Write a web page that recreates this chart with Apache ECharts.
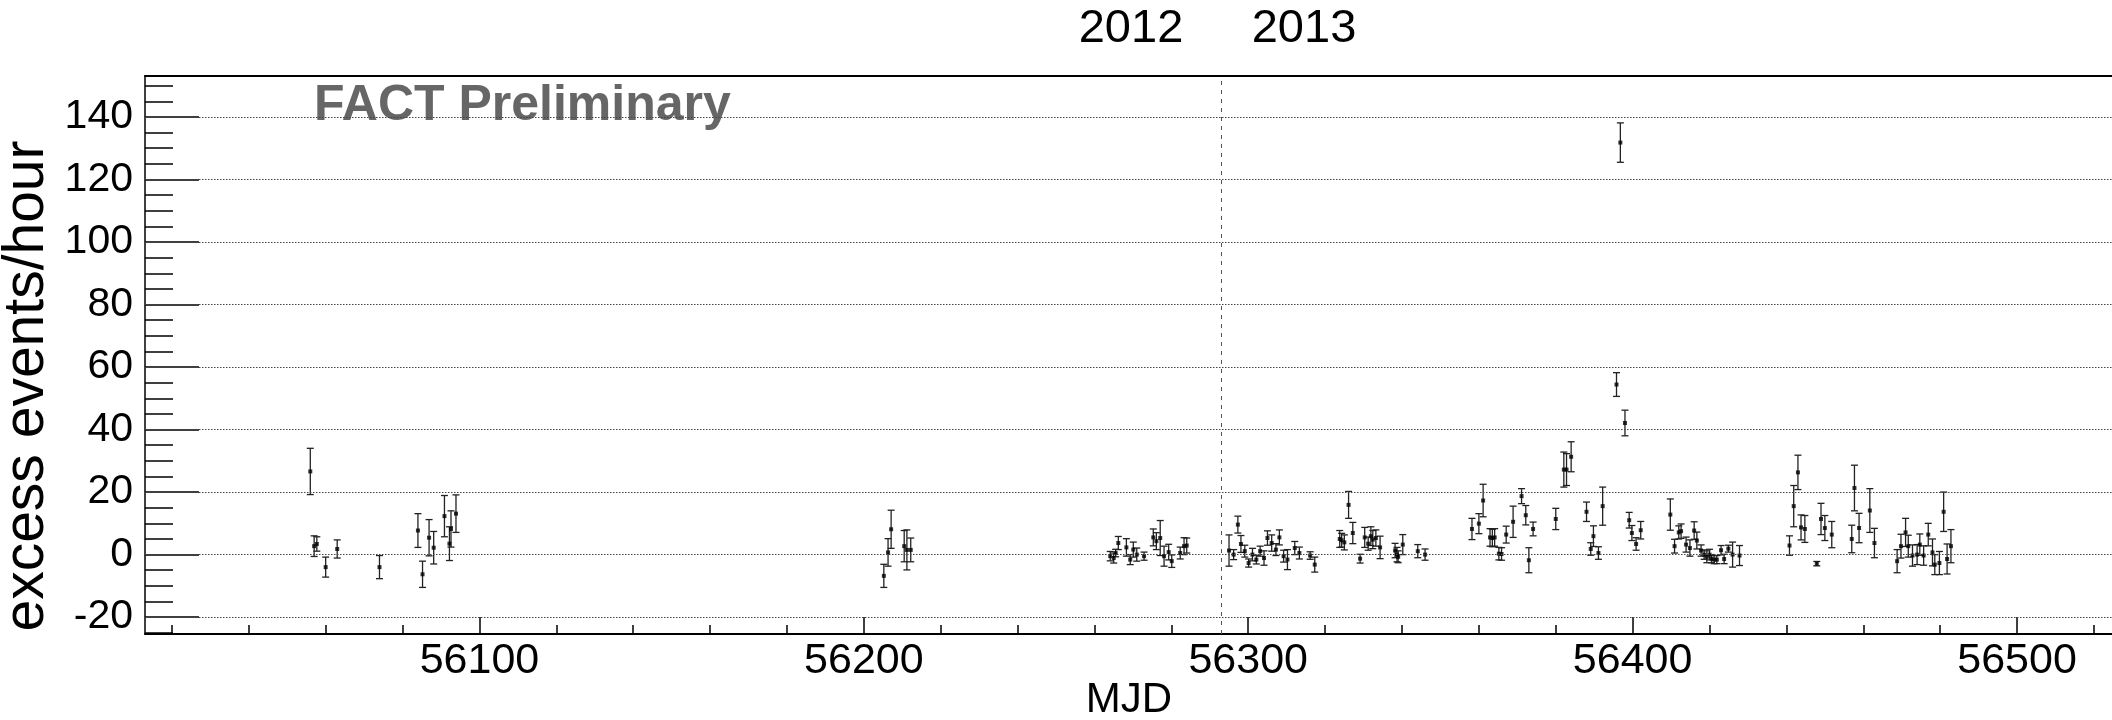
<!DOCTYPE html>
<html>
<head>
<meta charset="utf-8">
<script src="https://cdn.jsdelivr.net/npm/echarts@6/dist/echarts.min.js"></script>
<style>
html,body{margin:0;padding:0;background:#fff;}
#chart{width:2112px;height:720px;}
</style>
</head>
<body>
<div id="chart"></div>
<script>
// ---- data ----
const mjd = [
  56056.0,56057.0,56057.7,56060.0,56063.0,56074.0,56084.0,56085.2,56086.9,56088.1,56090.9,56092.2,56092.6,56093.9,
  56205.2,56206.3,56207.1,56210.5,56211.2,56212.2,
  56264.1,56265.0,56265.5,56266.2,56268.3,56269.3,56270.1,56271.0,56272.9,56275.3,56276.1,56277.1,56278.1,56279.3,56280.1,56282.3,56283.3,56284.0,
  56295.0,56296.2,56297.3,56298.1,56299.1,56300.1,56301.1,56302.1,56303.1,56304.1,56305.0,56306.1,56307.2,56308.1,56309.2,56310.2,56312.1,56313.3,56316.1,56317.3,
  56323.8,56324.3,56325.0,56326.1,56327.2,56329.1,56330.3,56331.2,56331.9,56332.4,56333.2,56334.3,56338.2,56338.7,56339.0,56340.2,56344.1,56346.0,
  56358.2,56360.0,56361.1,56362.9,56363.5,56364.1,56365.2,56365.9,56367.1,56368.9,56371.1,56372.2,56373.0,56374.1,56380.0,56382.1,56382.8,56384.0,
  56388.0,56389.1,56389.8,56391.1,56392.2,56395.8,56396.8,56398.0,56399.1,56399.8,56400.9,56402.1,
  56409.8,56410.9,56412.0,56412.6,56413.9,56414.9,56416.0,56416.7,56417.8,56418.6,56419.3,56420.0,56420.5,56421.2,56421.9,56423.0,56423.8,56424.9,56426.0,56427.8,
  56440.8,56441.9,56443.0,56443.8,56444.8,56447.9,56449.0,56450.0,56451.8,56457.0,56457.7,56458.9,56461.7,56462.9,
  56468.8,56469.8,56471.0,56471.7,56472.8,56474.0,56474.7,56475.7,56476.9,56478.0,56478.6,56479.8,56480.9,56481.8,56482.8
];
const excessRate = [
  26.6,2.7,3.4,-4.0,1.8,-4.0,7.7,-6.3,5.4,2.2,12.3,3.5,8.2,13.1,
  -6.8,0.7,8.1,2.7,1.5,1.5,
  -0.5,-1.1,0.5,3.7,2.3,-1.6,1.6,0.0,-0.5,5.5,4.3,5.3,-0.5,0.8,-2.1,0.5,2.7,2.9,
  1.3,0.0,9.6,3.4,1.1,-2.7,0.0,-1.6,1.1,-1.1,5.3,3.7,1.6,5.5,-0.5,-1.6,2.1,0.5,-0.3,-3.2,
  5.0,4.6,3.9,15.9,6.9,-1.3,5.5,3.5,5.9,4.8,5.3,2.3,1.3,0.0,-0.7,3.2,1.1,0.0,
  8.2,9.9,17.3,5.5,5.3,5.5,0.3,0.2,6.4,10.5,18.7,12.6,-1.8,8.2,11.4,27.2,27.2,31.3,
  13.7,1.8,5.9,0.5,15.5,54.4,131.8,42.1,11.0,6.9,3.4,7.8,
  12.8,2.7,7.1,7.5,3.2,2.1,7.7,4.5,1.3,0.0,-0.7,0.0,-1.3,-1.6,-1.6,1.4,-1.4,1.9,0.0,-0.3,
  2.9,15.5,26.3,8.7,8.2,-2.9,11.4,8.5,6.4,5.0,21.3,8.5,14.1,3.7,
  -2.1,2.7,7.1,2.7,-0.3,0.0,3.2,-0.3,6.4,0.7,-3.2,-2.7,13.7,-1.4,2.7
];
const rateError = [
  7.4,3.3,2.3,3.2,2.9,3.7,5.4,4.2,5.8,5.2,6.6,5.4,5.8,6.0,
  3.7,4.4,6.1,5.0,6.4,3.8,
  1.5,1.6,1.2,2.1,2.8,1.6,2.4,2.1,1.3,2.7,2.7,5.6,3.2,2.5,2.0,1.9,2.7,2.4,
  5.0,1.6,2.7,2.7,1.9,1.3,2.0,1.4,1.6,2.3,2.3,2.6,1.9,2.4,1.9,3.2,2.1,1.9,1.2,2.4,
  2.7,2.2,2.4,4.3,3.4,1.4,3.2,2.1,3.0,2.9,2.6,3.6,2.3,2.3,1.9,3.2,2.1,1.8,
  3.4,3.2,5.2,2.8,2.8,2.8,2.0,2.0,2.7,5.0,2.4,3.1,4.0,2.2,3.4,5.6,5.1,4.8,
  3.1,2.0,3.3,2.0,6.1,3.8,6.3,4.1,2.5,2.4,2.0,2.8,
  5.0,2.2,2.1,2.3,2.4,2.6,2.8,2.7,1.8,1.5,1.9,1.7,1.3,1.3,1.3,1.5,1.5,1.1,4.0,3.2,
  3.1,6.6,5.5,4.0,4.3,0.7,5.0,4.0,4.2,4.4,7.3,4.7,7.0,4.7,
  3.7,3.8,4.5,3.5,3.4,3.2,3.4,3.1,3.6,4.3,3.2,3.7,6.3,4.8,5.3
];
const xMajorTicks = [56100, 56200, 56300, 56400, 56500];
const xMinorTicks = [];
for (let v = 56020; v <= 56520; v += 20) xMinorTicks.push(v);
const yMajorTicks = [-20, 0, 20, 40, 60, 80, 100, 120, 140];
const yMinorTicks = [];
for (let v = -25; v <= 150; v += 5) yMinorTicks.push(v);
const yearBoundary = 56293;   // 2013-01-01
const xRange = [56013, 56526];
const yRange = [-25.4, 153.1];

const FONT = "'Liberation Sans', Arial, Helvetica, sans-serif";
const pts = mjd.map((m, i) => [m, excessRate[i], rateError[i]]);

function renderErr(params, api) {
  const x = api.value(0), y = api.value(1), e = api.value(2);
  const t = api.coord([x, y + e]);
  const b = api.coord([x, y - e]);
  const hw = 3.5;
  const st = { stroke: '#222', lineWidth: 1.3 };
  return {
    type: 'group',
    children: [
      { type: 'line', shape: { x1: t[0], y1: t[1], x2: b[0], y2: b[1] }, style: st },
      { type: 'line', shape: { x1: t[0] - hw, y1: t[1], x2: t[0] + hw, y2: t[1] }, style: st },
      { type: 'line', shape: { x1: b[0] - hw, y1: b[1], x2: b[0] + hw, y2: b[1] }, style: st }
    ]
  };
}

const chart = echarts.init(document.getElementById('chart'), null, { renderer: 'canvas' });
const axisLbl = { color: '#000', fontFamily: FONT };
chart.setOption({
  animation: false,
  backgroundColor: '#fff',
  grid: { left: 145, top: 76, width: 1972, height: 558, show: false, outerBoundsMode: 'none', containLabel: false },
  xAxis: [
    {
      type: 'value', min: xRange[0], max: xRange[1], position: 'bottom',
      axisLine: { show: true, onZero: false, lineStyle: { color: '#000', width: 2 } },
      axisTick: { show: true, inside: true, length: 17, customValues: xMajorTicks, lineStyle: { color: '#000', width: 1.5 } },
      axisLabel: Object.assign({ show: true, fontSize: 43, margin: 6, customValues: xMajorTicks, formatter: v => String(v) }, axisLbl),
      splitLine: { show: false }
    },
    {
      type: 'value', min: xRange[0], max: xRange[1], position: 'bottom',
      axisLine: { show: false, onZero: false },
      axisTick: { show: true, inside: true, length: 9, customValues: xMinorTicks, lineStyle: { color: '#000', width: 1.5 } },
      axisLabel: { show: false },
      splitLine: { show: false }
    },
    {
      type: 'value', min: xRange[0], max: xRange[1], position: 'top',
      axisLine: { show: true, onZero: false, lineStyle: { color: '#000', width: 2 } },
      axisTick: { show: false },
      axisLabel: { show: false },
      splitLine: { show: false }
    }
  ],
  yAxis: [
    {
      type: 'value', min: yRange[0], max: yRange[1], position: 'left',
      axisLine: { show: true, onZero: false, lineStyle: { color: '#000', width: 1.5 } },
      axisTick: { show: true, inside: true, length: 54, customValues: yMajorTicks, lineStyle: { color: '#000', width: 1.5 } },
      axisLabel: Object.assign({ show: true, fontSize: 41, margin: 12, customValues: yMajorTicks, formatter: v => String(v) }, axisLbl),
      splitLine: { show: false }
    },
    {
      type: 'value', min: yRange[0], max: yRange[1], position: 'left',
      axisLine: { show: false, onZero: false },
      axisTick: { show: true, inside: true, length: 28, customValues: yMinorTicks, lineStyle: { color: '#000', width: 1.5 } },
      axisLabel: { show: false },
      splitLine: { show: false }
    }
  ],
  series: [
    {
      type: 'custom', xAxisIndex: 0, yAxisIndex: 0,
      renderItem: renderErr, data: pts, encode: { x: 0, y: 1 }, z: 3, silent: true,
      markLine: {
        silent: true, symbol: 'none', label: { show: false }, animation: false,
        lineStyle: { color: '#444', type: [1.5, 1.5], width: 1.2 },
        data: yMajorTicks.map(v => ({ yAxis: v })).concat([
          { xAxis: yearBoundary, lineStyle: { color: '#555', type: [4, 5], width: 1 } }
        ])
      }
    },
    {
      type: 'scatter', xAxisIndex: 0, yAxisIndex: 0,
      data: pts.map(p => [p[0], p[1]]),
      symbol: 'rect', symbolSize: 4, itemStyle: { color: '#000' }, z: 4, silent: true
    }
  ],
  graphic: [
    { type: 'text', x: 314, y: 106, style: { text: 'FACT Preliminary', fontSize: 50, fontWeight: 'bold', fontFamily: FONT, fill: '#666', align: 'left', verticalAlign: 'middle' } },
    { type: 'text', x: 1131, y: 29, style: { text: '2012', fontSize: 47, fontFamily: FONT, fill: '#000', align: 'center', verticalAlign: 'middle' } },
    { type: 'text', x: 1304, y: 29, style: { text: '2013', fontSize: 47, fontFamily: FONT, fill: '#000', align: 'center', verticalAlign: 'middle' } },
    { type: 'text', x: 1129, y: 700, style: { text: 'MJD', fontSize: 42, fontFamily: FONT, fill: '#000', align: 'center', verticalAlign: 'middle' } },
    { type: 'text', x: 27, y: 386, rotation: Math.PI / 2, style: { text: 'excess events/hour', fontSize: 57, fontFamily: FONT, fill: '#000', align: 'center', verticalAlign: 'middle' } }
  ]
});
</script>
</body>
</html>
